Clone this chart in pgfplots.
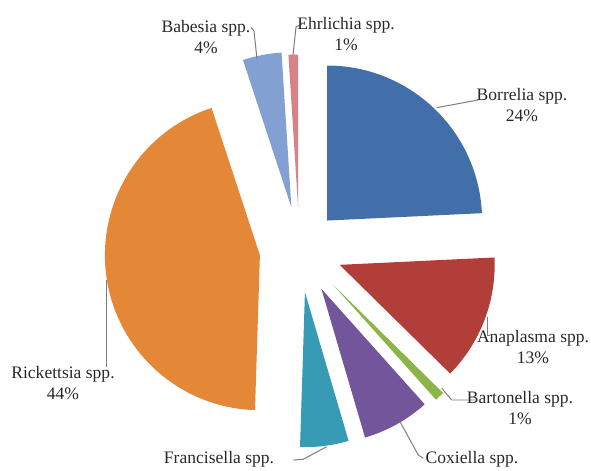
\documentclass[border=0pt]{standalone}
\usepackage{pgfplots}
\pgfplotsset{compat=1.18}
\usepackage{pgfplotstable}
\usepackage{fontspec}
\setmainfont{Liberation Serif}

\definecolor{cBor}{RGB}{66,110,170}
\definecolor{cAna}{RGB}{178,62,58}
\definecolor{cBar}{RGB}{140,180,72}
\definecolor{cCox}{RGB}{115,85,155}
\definecolor{cFra}{RGB}{55,155,182}
\definecolor{cRic}{RGB}{228,135,55}
\definecolor{cBab}{RGB}{130,160,210}
\definecolor{cEhr}{RGB}{215,130,135}
\definecolor{txt}{RGB}{40,40,40}
\definecolor{lead}{RGB}{125,125,125}

\tikzset{lbl/.style={align=center, text=txt, font=\fontsize{8.8}{10.5}\selectfont, inner sep=0pt}}
\pgfplotsset{leader/.style={draw=lead, line width=0.5pt, no marks, sharp plot, forget plot}}

% share (%), explosion (px), colour
\pgfplotstableread{
label       pct explode colour
Borrelia    24  40      cBor
Anaplasma   13  43      cAna
Bartonella  1   48      cBar
Coxiella    7   45      cCox
Francisella 5   43      cFra
Rickettsia  44  40      cRic
Babesia     4   43      cBab
Ehrlichia   1   40      cEhr
}\piedata

\def\total{99}
\def\cx{299.5}
\def\cy{221.5}
\def\R{155}
\def\Rbp{77.5bp}

\newcommand\pieslice[4]{%
  \pgfmathsetmacro\md{(#1+#2)/2}%
  \pgfmathsetmacro\ox{\cx+#3*cos(\md)}%
  \pgfmathsetmacro\oy{\cy+#3*sin(\md)}%
  \pgfmathsetmacro\ax{\ox+\R*cos(#1)}%
  \pgfmathsetmacro\ay{\oy+\R*sin(#1)}%
  \edef\temp{\noexpand\fill[#4] (axis cs:\ox,\oy) -- (axis cs:\ax,\ay) arc[start angle=#1, end angle=#2, radius=\Rbp] -- cycle;}%
  \temp}

\begin{document}
\begin{tikzpicture}
\begin{axis}[
  at={(0,0)}, anchor=south west,
  scale only axis, width=295.5bp, height=235.5bp,
  xmin=0, xmax=591, ymin=0, ymax=471,
  hide axis, clip=false,
]
\def\cumul{90}
\pgfplotsforeachungrouped \i in {0,...,7}{%
  \pgfplotstablegetelem{\i}{pct}\of\piedata \let\p\pgfplotsretval
  \pgfplotstablegetelem{\i}{explode}\of\piedata \let\ex\pgfplotsretval
  \pgfplotstablegetelem{\i}{colour}\of\piedata \let\col\pgfplotsretval
  \pgfmathsetmacro\sa{\cumul}%
  \pgfmathsetmacro\ea{\cumul-360*\p/\total}%
  \pieslice{\sa}{\ea}{\ex}{\col}%
  \let\cumul\ea
}

% leader lines (pixel coords, y flipped)
\addplot[leader] coordinates {(436.7,363.3) (478,371)};
\addplot[leader] coordinates {(487,154) (487,135) (490,135)};
\addplot[leader] coordinates {(441.7,82.7) (451.7,71) (475,71)};
\addplot[leader] coordinates {(400,49.3) (418.3,16) (423.3,12.7)};
\addplot[leader] coordinates {(326.7,24.3) (303.3,11.7) (293.3,11)};
\addplot[leader] coordinates {(106,191) (106,104.3)};
\addplot[leader] coordinates {(257,411.7) (254,440) (251,443.5)};
\addplot[leader] coordinates {(293,416) (296,444) (302,447)};

% labels
\node[lbl] at (axis cs:522,366) {Borrelia spp.\\24\%};
\node[lbl] at (axis cs:533,124) {Anaplasma spp.\\13\%};
\node[lbl] at (axis cs:520,63) {Bartonella spp.\\1\%};
\node[lbl] at (axis cs:472,12) {Coxiella spp.};
\node[lbl] at (axis cs:219,12) {Francisella spp.};
\node[lbl] at (axis cs:63,88) {Rickettsia spp.\\44\%};
\node[lbl] at (axis cs:206,434) {Babesia spp.\\4\%};
\node[lbl] at (axis cs:346,437) {Ehrlichia spp.\\1\%};
\end{axis}
\pgfresetboundingbox
\path (0,0) rectangle (295.5bp,235.5bp);
\end{tikzpicture}
\end{document}
